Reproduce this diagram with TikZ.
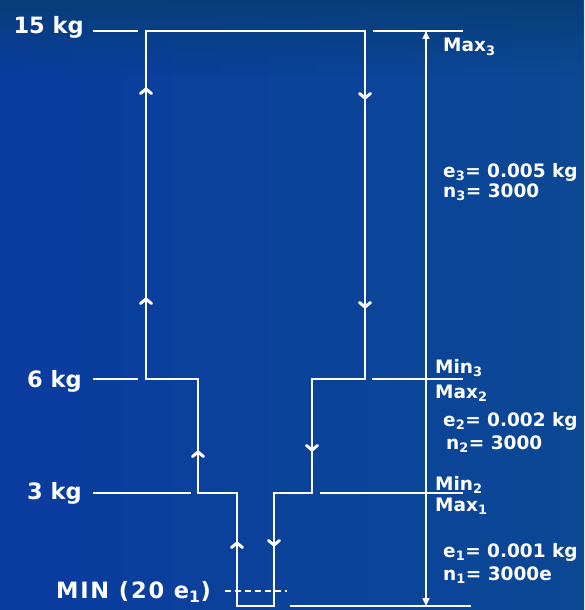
\documentclass[tikz,border=0pt]{standalone}
\usepackage{fontspec}
\setmainfont{DejaVu Sans}
\usetikzlibrary{arrows.meta,fadings}
\definecolor{bgmain}{RGB}{10,60,160}
\definecolor{bgtop}{RGB}{8,62,120}
\definecolor{bgright}{RGB}{12,72,148}
\tikzset{
  stepline/.style={draw=white, line width=2pt},
  tickline/.style={draw=white, line width=1.3pt},
  bigl/.style={text=white, font=\bfseries\fontsize{22.5}{25}\selectfont, inner sep=0pt},
  smalll/.style={text=white, font=\bfseries\fontsize{18.5}{20}\selectfont, inner sep=0pt, anchor=base west},
  upmark/.style={draw=white, line width=3pt, line cap=round, line join=round},
}
\newcommand\upchev[2]{\draw[upmark] (#1-5.5,#2+4.5) -- (#1,#2) -- (#1+5.5,#2+4.5);}
\newcommand\dnchev[2]{\draw[upmark] (#1-5.5,#2-4.5) -- (#1,#2) -- (#1+5.5,#2-4.5);}
\begin{document}
\begin{tikzpicture}[x=1pt,y=-1pt]
\useasboundingbox (0,0) rectangle (584,610);
\shade[left color=bgmain, right color=bgright] (0,0) rectangle (584,610);
\fill[bgtop, path fading=south] (0,0) rectangle (584,75);

% left labels
\node[bigl, anchor=base east] (l15) at (84,34) {15 kg};
\node[bigl, anchor=base east] (l6) at (82,387) {6 kg};
\node[bigl, anchor=base east] (l3) at (82,499) {3 kg};
\node[bigl, anchor=base east] (lmin) at (211,598) {\addfontfeature{LetterSpace=8}MIN (20 e\textsubscript{1})};

% tick lines
\draw[tickline] (93,31) -- (138,31);
\draw[tickline] (373,31) -- (463,31);
\draw[tickline] (93,379) -- (138,379);
\draw[tickline] (372,379) -- (463,379);
\draw[tickline] (93,493) -- (191,493);
\draw[tickline] (320,493) -- (463,493);
\draw[tickline] (290,606) -- (471,606);
\draw[tickline, dashed, dash pattern=on 6pt off 4pt] (225,591) -- (287,591);

% step outline
\draw[stepline, line join=miter]
  (146,379) -- (146,31) -- (365,31) -- (365,379) -- (312,379) -- (312,493)
  -- (274,493) -- (274,606) -- (237,606) -- (237,493) -- (198,493) -- (198,379) -- cycle;

% direction marks
\upchev{146}{89}
\upchev{146}{299}
\dnchev{365}{98}
\dnchev{365}{307}
\upchev{198}{452}
\dnchev{312}{450}
\upchev{237}{543}
\dnchev{274}{545}

% double arrow
\coordinate (dtop) at (426,31);
\coordinate (dbot) at (426,606);
\draw[white, line width=1.6pt, {Triangle[width=7pt,length=8pt]}-{Triangle[width=7pt,length=8pt]}] (dtop) -- (dbot);

% right labels
\node[smalll] (mx3) at (443,52) {Max\textsubscript{3}};
\node[smalll] (e3) at (443,177) {e\textsubscript{3}= 0.005 kg};
\node[smalll] (n3) at (443,197) {n\textsubscript{3}= 3000};
\node[smalll] (mn3) at (435,373) {Min\textsubscript{3}};
\node[smalll] (mx2) at (435,398) {Max\textsubscript{2}};
\node[smalll] (e2) at (443,426) {e\textsubscript{2}= 0.002 kg};
\node[smalll] (n2) at (446,449) {n\textsubscript{2}= 3000};
\node[smalll] (mn2) at (435,490) {Min\textsubscript{2}};
\node[smalll] (mx1) at (435,511) {Max\textsubscript{1}};
\node[smalll] (e1) at (443,557) {e\textsubscript{1}= 0.001 kg};
\node[smalll] (n1) at (443,580) {n\textsubscript{1}= 3000e};
\end{tikzpicture}
\end{document}
